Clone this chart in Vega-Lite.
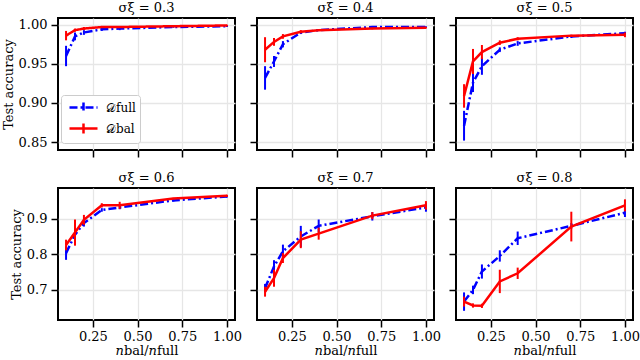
{
  "$schema": "https://vega.github.io/schema/vega-lite/v6.json",
  "padding": {"left": 1, "top": 1, "right": 5, "bottom": 2},
  "background": "white",
  "datasets": {
    "d": [
      {"s": 0.3, "series": "full", "x": 0.1, "acc": 0.960, "err": 0.013},
      {"s": 0.3, "series": "full", "x": 0.15, "acc": 0.985, "err": 0.005},
      {"s": 0.3, "series": "full", "x": 0.2, "acc": 0.990, "err": 0.003},
      {"s": 0.3, "series": "full", "x": 0.3, "acc": 0.994, "err": 0.002},
      {"s": 0.3, "series": "full", "x": 0.4, "acc": 0.995, "err": 0.002},
      {"s": 0.3, "series": "full", "x": 0.7, "acc": 0.997, "err": 0.001},
      {"s": 0.3, "series": "full", "x": 1.0, "acc": 0.998, "err": 0.001},
      {"s": 0.3, "series": "bal", "x": 0.1, "acc": 0.986, "err": 0.006},
      {"s": 0.3, "series": "bal", "x": 0.15, "acc": 0.993, "err": 0.002},
      {"s": 0.3, "series": "bal", "x": 0.2, "acc": 0.995, "err": 0.002},
      {"s": 0.3, "series": "bal", "x": 0.3, "acc": 0.997, "err": 0.001},
      {"s": 0.3, "series": "bal", "x": 0.4, "acc": 0.997, "err": 0.001},
      {"s": 0.3, "series": "bal", "x": 0.7, "acc": 0.998, "err": 0.001},
      {"s": 0.3, "series": "bal", "x": 1.0, "acc": 0.999, "err": 0.001},
      {"s": 0.4, "series": "full", "x": 0.1, "acc": 0.932, "err": 0.015},
      {"s": 0.4, "series": "full", "x": 0.15, "acc": 0.953, "err": 0.007},
      {"s": 0.4, "series": "full", "x": 0.2, "acc": 0.975, "err": 0.004},
      {"s": 0.4, "series": "full", "x": 0.3, "acc": 0.990, "err": 0.002},
      {"s": 0.4, "series": "full", "x": 0.4, "acc": 0.993, "err": 0.001},
      {"s": 0.4, "series": "full", "x": 0.7, "acc": 0.997, "err": 0.001},
      {"s": 0.4, "series": "full", "x": 1.0, "acc": 0.997, "err": 0.001},
      {"s": 0.4, "series": "bal", "x": 0.1, "acc": 0.968, "err": 0.016},
      {"s": 0.4, "series": "bal", "x": 0.15, "acc": 0.978, "err": 0.005},
      {"s": 0.4, "series": "bal", "x": 0.2, "acc": 0.985, "err": 0.003},
      {"s": 0.4, "series": "bal", "x": 0.3, "acc": 0.991, "err": 0.002},
      {"s": 0.4, "series": "bal", "x": 0.4, "acc": 0.993, "err": 0.001},
      {"s": 0.4, "series": "bal", "x": 0.7, "acc": 0.995, "err": 0.001},
      {"s": 0.4, "series": "bal", "x": 1.0, "acc": 0.996, "err": 0.001},
      {"s": 0.5, "series": "full", "x": 0.1, "acc": 0.871, "err": 0.019},
      {"s": 0.5, "series": "full", "x": 0.15, "acc": 0.926, "err": 0.012},
      {"s": 0.5, "series": "full", "x": 0.2, "acc": 0.947, "err": 0.011},
      {"s": 0.5, "series": "full", "x": 0.3, "acc": 0.968, "err": 0.003},
      {"s": 0.5, "series": "full", "x": 0.4, "acc": 0.976, "err": 0.003},
      {"s": 0.5, "series": "full", "x": 0.7, "acc": 0.985, "err": 0.002},
      {"s": 0.5, "series": "full", "x": 1.0, "acc": 0.989, "err": 0.002},
      {"s": 0.5, "series": "bal", "x": 0.1, "acc": 0.909, "err": 0.015},
      {"s": 0.5, "series": "bal", "x": 0.15, "acc": 0.953, "err": 0.016},
      {"s": 0.5, "series": "bal", "x": 0.2, "acc": 0.965, "err": 0.009},
      {"s": 0.5, "series": "bal", "x": 0.3, "acc": 0.977, "err": 0.003},
      {"s": 0.5, "series": "bal", "x": 0.4, "acc": 0.982, "err": 0.002},
      {"s": 0.5, "series": "bal", "x": 0.7, "acc": 0.986, "err": 0.001},
      {"s": 0.5, "series": "bal", "x": 1.0, "acc": 0.987, "err": 0.003},
      {"s": 0.6, "series": "full", "x": 0.1, "acc": 0.803, "err": 0.019},
      {"s": 0.6, "series": "full", "x": 0.15, "acc": 0.855, "err": 0.010},
      {"s": 0.6, "series": "full", "x": 0.2, "acc": 0.888, "err": 0.010},
      {"s": 0.6, "series": "full", "x": 0.3, "acc": 0.925, "err": 0.005},
      {"s": 0.6, "series": "full", "x": 0.4, "acc": 0.932, "err": 0.005},
      {"s": 0.6, "series": "full", "x": 0.7, "acc": 0.952, "err": 0.003},
      {"s": 0.6, "series": "full", "x": 1.0, "acc": 0.963, "err": 0.003},
      {"s": 0.6, "series": "bal", "x": 0.1, "acc": 0.826, "err": 0.015},
      {"s": 0.6, "series": "bal", "x": 0.15, "acc": 0.861, "err": 0.037},
      {"s": 0.6, "series": "bal", "x": 0.2, "acc": 0.897, "err": 0.014},
      {"s": 0.6, "series": "bal", "x": 0.3, "acc": 0.938, "err": 0.006},
      {"s": 0.6, "series": "bal", "x": 0.4, "acc": 0.938, "err": 0.010},
      {"s": 0.6, "series": "bal", "x": 0.7, "acc": 0.957, "err": 0.002},
      {"s": 0.6, "series": "bal", "x": 1.0, "acc": 0.965, "err": 0.003},
      {"s": 0.7, "series": "full", "x": 0.1, "acc": 0.704, "err": 0.012},
      {"s": 0.7, "series": "full", "x": 0.15, "acc": 0.765, "err": 0.018},
      {"s": 0.7, "series": "full", "x": 0.2, "acc": 0.808, "err": 0.019},
      {"s": 0.7, "series": "full", "x": 0.3, "acc": 0.850, "err": 0.030},
      {"s": 0.7, "series": "full", "x": 0.4, "acc": 0.880, "err": 0.018},
      {"s": 0.7, "series": "full", "x": 0.7, "acc": 0.907, "err": 0.012},
      {"s": 0.7, "series": "full", "x": 1.0, "acc": 0.932, "err": 0.012},
      {"s": 0.7, "series": "bal", "x": 0.1, "acc": 0.694, "err": 0.014},
      {"s": 0.7, "series": "bal", "x": 0.15, "acc": 0.732, "err": 0.024},
      {"s": 0.7, "series": "bal", "x": 0.2, "acc": 0.789, "err": 0.014},
      {"s": 0.7, "series": "bal", "x": 0.3, "acc": 0.841, "err": 0.024},
      {"s": 0.7, "series": "bal", "x": 0.4, "acc": 0.858, "err": 0.017},
      {"s": 0.7, "series": "bal", "x": 0.7, "acc": 0.909, "err": 0.010},
      {"s": 0.7, "series": "bal", "x": 1.0, "acc": 0.938, "err": 0.012},
      {"s": 0.8, "series": "full", "x": 0.1, "acc": 0.666, "err": 0.026},
      {"s": 0.8, "series": "full", "x": 0.15, "acc": 0.699, "err": 0.012},
      {"s": 0.8, "series": "full", "x": 0.2, "acc": 0.751, "err": 0.020},
      {"s": 0.8, "series": "full", "x": 0.3, "acc": 0.795, "err": 0.016},
      {"s": 0.8, "series": "full", "x": 0.4, "acc": 0.845, "err": 0.019},
      {"s": 0.8, "series": "full", "x": 0.7, "acc": 0.880, "err": 0.008},
      {"s": 0.8, "series": "full", "x": 1.0, "acc": 0.917, "err": 0.012},
      {"s": 0.8, "series": "bal", "x": 0.1, "acc": 0.666, "err": 0.014},
      {"s": 0.8, "series": "bal", "x": 0.15, "acc": 0.655, "err": 0.006},
      {"s": 0.8, "series": "bal", "x": 0.2, "acc": 0.654, "err": 0.006},
      {"s": 0.8, "series": "bal", "x": 0.3, "acc": 0.723, "err": 0.033},
      {"s": 0.8, "series": "bal", "x": 0.4, "acc": 0.746, "err": 0.016},
      {"s": 0.8, "series": "bal", "x": 0.7, "acc": 0.878, "err": 0.042},
      {"s": 0.8, "series": "bal", "x": 1.0, "acc": 0.938, "err": 0.017}
    ]
  },
  "columns": 3,
  "spacing": {"row": 38, "column": 22},
  "bounds": "flush",
  "concat": [
    {
      "width": 177, "height": 132, "title": "σξ = 0.3",
      "data": {"name": "d"},
      "transform": [{"filter": "datum.s == 0.3"}],
      "encoding": {
        "x": {"field": "x", "type": "quantitative", "scale": {"domain": [0.055, 1.045], "nice": false, "zero": false}, "axis": {"values": [0.25, 0.5, 0.75, 1], "labels": false, "title": null}},
        "y": {"field": "acc", "type": "quantitative", "scale": {"domain": [0.84, 1.0085], "nice": false, "zero": false}, "axis": {"values": [0.85, 0.9, 0.95, 1], "format": ".2f", "title": "Test accuracy"}}
      },
      "layer": [
        {"transform": [{"filter": "datum.series == 'full'"}], "mark": {"type": "errorbar", "color": "#0000ff", "thickness": 2}, "encoding": {"yError": {"field": "err"}}},
        {"transform": [{"filter": "datum.series == 'full'"}],
         "mark": {"type": "line", "strokeWidth": 2.5},
         "encoding": {
           "color": {"field": "series", "type": "nominal", "scale": {"domain": ["full", "bal"], "range": ["#0000ff", "#ff0000"]}, "legend": {"orient": "none", "legendX": 3, "legendY": 77, "title": null, "labelExpr": "datum.label == 'full' ? '𝒟full' : '𝒟bal'"}},
           "strokeDash": {"field": "series", "type": "nominal", "scale": {"domain": ["full", "bal"], "range": [[8, 3, 2, 3], [1, 0]]}, "legend": {"orient": "none", "legendX": 3, "legendY": 77, "title": null, "labelExpr": "datum.label == 'full' ? '𝒟full' : '𝒟bal'"}}}},
        {"transform": [{"filter": "datum.series == 'bal'"}], "mark": {"type": "errorbar", "color": "#ff0000", "thickness": 2}, "encoding": {"yError": {"field": "err"}}},
        {"transform": [{"filter": "datum.series == 'bal'"}],
         "mark": {"type": "line", "strokeWidth": 2.5},
         "encoding": {
           "color": {"field": "series", "type": "nominal", "scale": {"domain": ["full", "bal"], "range": ["#0000ff", "#ff0000"]}, "legend": {"orient": "none", "legendX": 3, "legendY": 77, "title": null, "labelExpr": "datum.label == 'full' ? '𝒟full' : '𝒟bal'"}},
           "strokeDash": {"field": "series", "type": "nominal", "scale": {"domain": ["full", "bal"], "range": [[8, 3, 2, 3], [1, 0]]}, "legend": {"orient": "none", "legendX": 3, "legendY": 77, "title": null, "labelExpr": "datum.label == 'full' ? '𝒟full' : '𝒟bal'"}}}}
      ]
    },
    {
      "width": 177, "height": 132, "title": "σξ = 0.4",
      "data": {"name": "d"},
      "transform": [{"filter": "datum.s == 0.4"}],
      "encoding": {
        "x": {"field": "x", "type": "quantitative", "scale": {"domain": [0.055, 1.045], "nice": false, "zero": false}, "axis": {"values": [0.25, 0.5, 0.75, 1], "labels": false, "title": null}},
        "y": {"field": "acc", "type": "quantitative", "scale": {"domain": [0.84, 1.0085], "nice": false, "zero": false}, "axis": {"values": [0.85, 0.9, 0.95, 1], "labels": false, "title": null}}
      },
      "layer": [
        {"transform": [{"filter": "datum.series == 'full'"}], "mark": {"type": "errorbar", "color": "#0000ff", "thickness": 2}, "encoding": {"yError": {"field": "err"}}},
        {"transform": [{"filter": "datum.series == 'full'"}], "mark": {"type": "line", "strokeWidth": 2.5, "color": "#0000ff", "strokeDash": [8, 3, 2, 3]}, "encoding": {}},
        {"transform": [{"filter": "datum.series == 'bal'"}], "mark": {"type": "errorbar", "color": "#ff0000", "thickness": 2}, "encoding": {"yError": {"field": "err"}}},
        {"transform": [{"filter": "datum.series == 'bal'"}], "mark": {"type": "line", "strokeWidth": 2.5, "color": "#ff0000"}, "encoding": {}}
      ]
    },
    {
      "width": 177, "height": 132, "title": "σξ = 0.5",
      "data": {"name": "d"},
      "transform": [{"filter": "datum.s == 0.5"}],
      "encoding": {
        "x": {"field": "x", "type": "quantitative", "scale": {"domain": [0.055, 1.045], "nice": false, "zero": false}, "axis": {"values": [0.25, 0.5, 0.75, 1], "labels": false, "title": null}},
        "y": {"field": "acc", "type": "quantitative", "scale": {"domain": [0.84, 1.0085], "nice": false, "zero": false}, "axis": {"values": [0.85, 0.9, 0.95, 1], "labels": false, "title": null}}
      },
      "layer": [
        {"transform": [{"filter": "datum.series == 'full'"}], "mark": {"type": "errorbar", "color": "#0000ff", "thickness": 2}, "encoding": {"yError": {"field": "err"}}},
        {"transform": [{"filter": "datum.series == 'full'"}], "mark": {"type": "line", "strokeWidth": 2.5, "color": "#0000ff", "strokeDash": [8, 3, 2, 3]}, "encoding": {}},
        {"transform": [{"filter": "datum.series == 'bal'"}], "mark": {"type": "errorbar", "color": "#ff0000", "thickness": 2}, "encoding": {"yError": {"field": "err"}}},
        {"transform": [{"filter": "datum.series == 'bal'"}], "mark": {"type": "line", "strokeWidth": 2.5, "color": "#ff0000"}, "encoding": {}}
      ]
    },
    {
      "width": 177, "height": 132, "title": "σξ = 0.6",
      "data": {"name": "d"},
      "transform": [{"filter": "datum.s == 0.6"}],
      "encoding": {
        "x": {"field": "x", "type": "quantitative", "scale": {"domain": [0.055, 1.045], "nice": false, "zero": false}, "axis": {"values": [0.25, 0.5, 0.75, 1], "format": ".2f", "title": "𝑛bal/𝑛full"}},
        "y": {"field": "acc", "type": "quantitative", "scale": {"domain": [0.614, 0.987], "nice": false, "zero": false}, "axis": {"values": [0.7, 0.8, 0.9], "format": ".1f", "title": "Test accuracy"}}
      },
      "layer": [
        {"transform": [{"filter": "datum.series == 'full'"}], "mark": {"type": "errorbar", "color": "#0000ff", "thickness": 2}, "encoding": {"yError": {"field": "err"}}},
        {"transform": [{"filter": "datum.series == 'full'"}], "mark": {"type": "line", "strokeWidth": 2.5, "color": "#0000ff", "strokeDash": [8, 3, 2, 3]}, "encoding": {}},
        {"transform": [{"filter": "datum.series == 'bal'"}], "mark": {"type": "errorbar", "color": "#ff0000", "thickness": 2}, "encoding": {"yError": {"field": "err"}}},
        {"transform": [{"filter": "datum.series == 'bal'"}], "mark": {"type": "line", "strokeWidth": 2.5, "color": "#ff0000"}, "encoding": {}}
      ]
    },
    {
      "width": 177, "height": 132, "title": "σξ = 0.7",
      "data": {"name": "d"},
      "transform": [{"filter": "datum.s == 0.7"}],
      "encoding": {
        "x": {"field": "x", "type": "quantitative", "scale": {"domain": [0.055, 1.045], "nice": false, "zero": false}, "axis": {"values": [0.25, 0.5, 0.75, 1], "format": ".2f", "title": "𝑛bal/𝑛full"}},
        "y": {"field": "acc", "type": "quantitative", "scale": {"domain": [0.614, 0.987], "nice": false, "zero": false}, "axis": {"values": [0.7, 0.8, 0.9], "labels": false, "title": null}}
      },
      "layer": [
        {"transform": [{"filter": "datum.series == 'full'"}], "mark": {"type": "errorbar", "color": "#0000ff", "thickness": 2}, "encoding": {"yError": {"field": "err"}}},
        {"transform": [{"filter": "datum.series == 'full'"}], "mark": {"type": "line", "strokeWidth": 2.5, "color": "#0000ff", "strokeDash": [8, 3, 2, 3]}, "encoding": {}},
        {"transform": [{"filter": "datum.series == 'bal'"}], "mark": {"type": "errorbar", "color": "#ff0000", "thickness": 2}, "encoding": {"yError": {"field": "err"}}},
        {"transform": [{"filter": "datum.series == 'bal'"}], "mark": {"type": "line", "strokeWidth": 2.5, "color": "#ff0000"}, "encoding": {}}
      ]
    },
    {
      "width": 177, "height": 132, "title": "σξ = 0.8",
      "data": {"name": "d"},
      "transform": [{"filter": "datum.s == 0.8"}],
      "encoding": {
        "x": {"field": "x", "type": "quantitative", "scale": {"domain": [0.055, 1.045], "nice": false, "zero": false}, "axis": {"values": [0.25, 0.5, 0.75, 1], "format": ".2f", "title": "𝑛bal/𝑛full"}},
        "y": {"field": "acc", "type": "quantitative", "scale": {"domain": [0.614, 0.987], "nice": false, "zero": false}, "axis": {"values": [0.7, 0.8, 0.9], "labels": false, "title": null}}
      },
      "layer": [
        {"transform": [{"filter": "datum.series == 'full'"}], "mark": {"type": "errorbar", "color": "#0000ff", "thickness": 2}, "encoding": {"yError": {"field": "err"}}},
        {"transform": [{"filter": "datum.series == 'full'"}], "mark": {"type": "line", "strokeWidth": 2.5, "color": "#0000ff", "strokeDash": [8, 3, 2, 3]}, "encoding": {}},
        {"transform": [{"filter": "datum.series == 'bal'"}], "mark": {"type": "errorbar", "color": "#ff0000", "thickness": 2}, "encoding": {"yError": {"field": "err"}}},
        {"transform": [{"filter": "datum.series == 'bal'"}], "mark": {"type": "line", "strokeWidth": 2.5, "color": "#ff0000"}, "encoding": {}}
      ]
    }
  ],
  "config": {
    "view": {"stroke": "black", "strokeWidth": 2},
    "axis": {
      "grid": true, "gridColor": "#e6e6e6", "gridWidth": 1.3,
      "domain": false,
      "tickColor": "black", "tickSize": 7, "tickWidth": 1.5,
      "labelFont": "DejaVu Serif", "labelFontSize": 13, "labelColor": "black",
      "titleFont": "DejaVu Serif", "titleFontSize": 13, "titleFontWeight": "normal", "titleColor": "black"
    },
    "axisY": {"labelPadding": 4, "titlePadding": 3},
    "axisX": {"labelPadding": 3, "titlePadding": 1},
    "title": {"font": "DejaVu Serif", "fontSize": 13, "fontWeight": "normal", "color": "black", "offset": 3},
    "legend": {
      "symbolType": "M-2,0H2M0,-0.7V0.7", "symbolSize": 196, "symbolStrokeWidth": 2.5,
      "symbolOffset": 10, "labelOffset": 14,
      "labelFont": "DejaVu Serif", "labelFontSize": 12, "labelColor": "black",
      "strokeColor": "#cccccc", "fillColor": "white", "cornerRadius": 3, "padding": 4, "rowPadding": 0
    }
  }
}
